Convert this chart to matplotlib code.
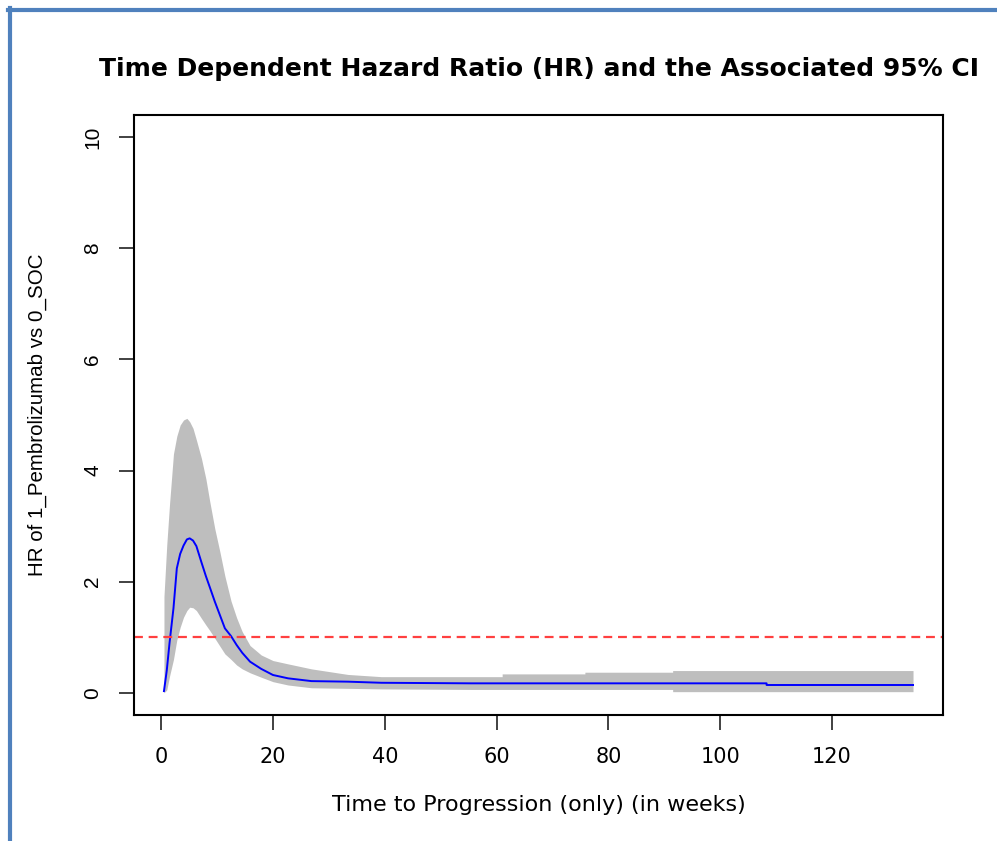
import matplotlib
matplotlib.use("Agg")
import matplotlib.pyplot as plt
from matplotlib.lines import Line2D

# time-dependent HR and its 95% CI
weeks = [0.5, 1.0, 1.5, 2.2, 2.8, 3.4, 4.0, 4.6, 5.1, 5.7, 6.3, 7.2, 8.0, 8.7, 9.6,
         10.5, 11.4, 12.5, 13.5, 14.5, 15.9, 17.9, 20.0, 22.7, 26.9, 33.4, 39.4,
         55.4, 61.0, 61.0, 75.8, 75.8, 91.5, 91.5, 108.3, 108.3, 134.5]
hr = [0.03, 0.40, 0.90, 1.52, 2.24, 2.50, 2.65, 2.76, 2.78, 2.74, 2.64, 2.35, 2.10, 1.90, 1.64,
      1.40, 1.16, 1.02, 0.86, 0.72, 0.56, 0.43, 0.32, 0.26, 0.21, 0.20, 0.18,
      0.17, 0.17, 0.17, 0.17, 0.17, 0.17, 0.17, 0.17, 0.14, 0.14]
ci_low = [0.00, 0.05, 0.30, 0.60, 0.95, 1.18, 1.36, 1.48, 1.54, 1.53, 1.48, 1.34, 1.22, 1.12, 0.98,
          0.84, 0.70, 0.60, 0.50, 0.43, 0.36, 0.28, 0.20, 0.14, 0.09, 0.08, 0.07,
          0.06, 0.06, 0.06, 0.06, 0.06, 0.06, 0.02, 0.02, 0.02, 0.02]
ci_high = [1.73, 2.66, 3.40, 4.30, 4.62, 4.82, 4.91, 4.94, 4.88, 4.76, 4.55, 4.22, 3.85, 3.44, 2.95,
           2.54, 2.10, 1.65, 1.35, 1.10, 0.85, 0.68, 0.58, 0.52, 0.43, 0.33, 0.29,
           0.29, 0.29, 0.34, 0.34, 0.37, 0.37, 0.40, 0.40, 0.40, 0.40]
x_ticks = [0, 20, 40, 60, 80, 100, 120]
y_ticks = [0, 2, 4, 6, 8, 10]
ref_hr = 1.0

# the screenshot is stretched sideways: wide face for horizontal text,
# plain Arial-like face for the rotated y-axis text
WIDE = ["DejaVu Sans"]
NARROW = ["Liberation Sans", "DejaVu Sans"]

fig = plt.figure(figsize=(9.97, 8.41), dpi=100)
ax = fig.add_axes([134 / 997, 1 - 715 / 841, 809 / 997, 600 / 841])

ax.fill_between(weeks, ci_low, ci_high, color="#BEBEBE", linewidth=0)
ax.plot(weeks, hr, color="#0000FF", linewidth=1.4)
ax.axhline(ref_hr, color="#FF4040", linewidth=1.6, dashes=(4, 2.6))

# R-style 4% padding around the data range
xr = weeks[-1] - weeks[0]
ax.set_xlim(weeks[0] - 0.04 * xr, weeks[-1] + 0.04 * xr)
ax.set_ylim(-0.4, 10.4)
ax.set_xticks(x_ticks)
ax.set_xticklabels([str(v) for v in x_ticks], family=WIDE, fontsize=15)
ax.set_yticks(y_ticks)
ax.set_yticklabels([str(v) for v in y_ticks], rotation=90, va="center",
                   family=NARROW, fontsize=15)
ax.tick_params(direction="out", length=11, width=1.3, pad=12, color="#333333")
for s in ax.spines.values():
    s.set_linewidth(1.5)

ax.set_title("Time Dependent Hazard Ratio (HR) and the Associated 95% CI",
             family=WIDE, fontsize=18, fontweight="bold", pad=28)
ax.set_xlabel("Time to Progression (only) (in weeks)", family=WIDE,
              fontsize=16, labelpad=20)
ax.set_ylabel("HR of 1_Pembrolizumab vs 0_SOC", family=NARROW,
              fontsize=14.8, labelpad=26)

# blue frame on left and top of the screenshot
fig.add_artist(Line2D([10 / 997, 10 / 997], [0, 1 - 8 / 841], color="#4F81BD",
                      linewidth=3, transform=fig.transFigure))
fig.add_artist(Line2D([8 / 997, 1], [1 - 10 / 841, 1 - 10 / 841], color="#4F81BD",
                      linewidth=3, transform=fig.transFigure))

fig.savefig("out.png", dpi=100)
